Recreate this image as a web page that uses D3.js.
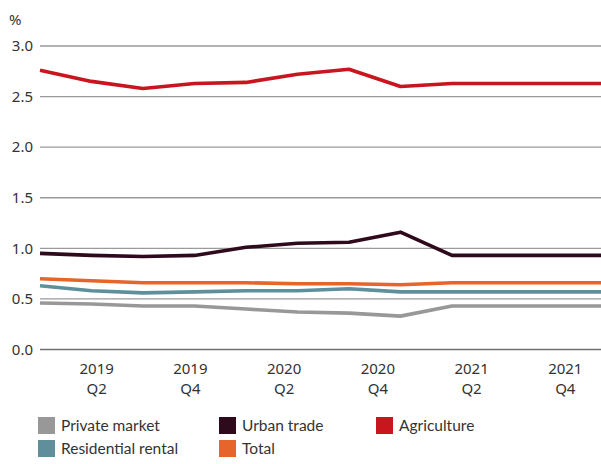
<!DOCTYPE html>
<html>
<head>
<meta charset="utf-8">
<script src="https://cdn.jsdelivr.net/npm/d3@7"></script>
<style>
  html, body { margin: 0; padding: 0; background: #fff; }
  svg { display: block; font-family: "Noto Sans", "DejaVu Sans", sans-serif; }
</style>
</head>
<body>
<div id="chart"></div>
<script>
// Quarterly observations (index 0..11)
const periods = d3.range(12);
const privateMarket = [0.46, 0.45, 0.43, 0.43, 0.40, 0.37, 0.36, 0.33, 0.43, 0.43, 0.43, 0.43];
const residentialRental = [0.63, 0.58, 0.56, 0.57, 0.58, 0.58, 0.60, 0.57, 0.57, 0.57, 0.57, 0.57];
const urbanTrade = [0.95, 0.93, 0.92, 0.93, 1.01, 1.05, 1.06, 1.16, 0.93, 0.93, 0.93, 0.93];
const total = [0.70, 0.68, 0.66, 0.66, 0.66, 0.65, 0.65, 0.64, 0.66, 0.66, 0.66, 0.66];
const agriculture = [2.76, 2.65, 2.58, 2.63, 2.64, 2.72, 2.77, 2.60, 2.63, 2.63, 2.63, 2.63];

// Period labels and where they sit on the period index scale
const tickLabels = [["2019", "Q2"], ["2019", "Q4"], ["2020", "Q2"], ["2020", "Q4"], ["2021", "Q2"], ["2021", "Q4"]];
const tickIndex = [1.1, 2.92, 4.74, 6.56, 8.38, 10.2];
const yTicks = [0, 0.5, 1, 1.5, 2, 2.5, 3];

const seriesNames = ["Private market", "Residential rental", "Urban trade", "Total", "Agriculture"];
const seriesColors = ["#989898", "#5e8f9b", "#2e0a1c", "#e5652a", "#c8151e"];
const seriesValues = [privateMarket, residentialRental, urbanTrade, total, agriculture];

const W = 601, H = 464;
const svg = d3.select("#chart").append("svg").attr("width", W).attr("height", H);

const x = d3.scaleLinear().domain([0, 11]).range([40, 606.5]);
const y = d3.scaleLinear().domain([0, 3]).range([349.5, 46]);

// Horizontal gridlines
svg.append("g").selectAll("line").data(yTicks.filter(d => d > 0)).join("line")
  .attr("x1", 40).attr("x2", W)
  .attr("y1", d => y(d)).attr("y2", d => y(d))
  .attr("stroke", "#9a9a9a").attr("stroke-width", 1.3);

// Baseline
svg.append("line").attr("x1", 40).attr("x2", W)
  .attr("y1", y(0)).attr("y2", y(0))
  .attr("stroke", "#707070").attr("stroke-width", 1.6);

// Y axis labels
const yAxis = svg.append("g").attr("transform", "translate(33,0)")
  .call(d3.axisLeft(y).tickValues(yTicks).tickFormat(d3.format(".1f")).tickSize(0).tickPadding(0));
yAxis.select(".domain").remove();
yAxis.selectAll("text").attr("font-size", 15).attr("fill", "#333").attr("font-family", "Noto Sans, sans-serif");

svg.append("text").attr("x", 9).attr("y", 25).attr("font-size", 15).attr("fill", "#333").text("%");

// X axis labels (two lines)
const xl = svg.append("g").selectAll("text").data(tickLabels).join("text")
  .attr("x", (d, i) => x(tickIndex[i]))
  .attr("text-anchor", "middle").attr("font-size", 15).attr("fill", "#333");
xl.append("tspan").attr("x", (d, i) => x(tickIndex[i])).attr("y", 374).text(d => d[0]);
xl.append("tspan").attr("x", (d, i) => x(tickIndex[i])).attr("y", 394).text(d => d[1]);

// Series lines
const line = d3.line().x((d, i) => x(periods[i])).y(d => y(d));
svg.append("g").selectAll("path").data(seriesValues).join("path")
  .attr("d", d => line(d))
  .attr("fill", "none")
  .attr("stroke", (d, i) => seriesColors[i])
  .attr("stroke-width", 3.6)
  .attr("stroke-linejoin", "round");

// Legend
const legendPos = [[38, 417], [38, 440], [219, 417], [219, 440], [376, 417]];
const lg = svg.append("g").selectAll("g").data(seriesNames).join("g")
  .attr("transform", (d, i) => `translate(${legendPos[i][0]},${legendPos[i][1]})`);
lg.append("rect").attr("width", 17).attr("height", 17).attr("fill", (d, i) => seriesColors[i]);
lg.append("text").attr("x", 23).attr("y", 14).attr("font-size", 15.5)
  .attr("font-family", "Lato, sans-serif").attr("fill", "#333").text(d => d);
</script>
</body>
</html>
